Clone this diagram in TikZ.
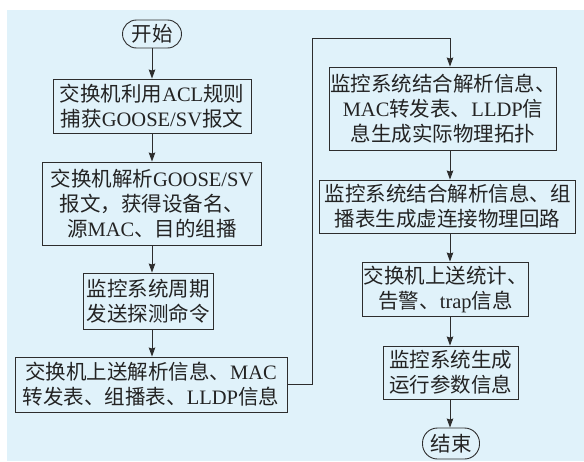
\documentclass[tikz,border=0pt]{standalone}
\usepackage{fontspec}
\setmainfont{Noto Sans CJK SC}
\newfontfamily\en{Liberation Serif}
\usetikzlibrary{arrows.meta,calc}
\definecolor{bgblue}{RGB}{224,242,250}
\definecolor{linec}{RGB}{45,45,45}
\definecolor{txtc}{RGB}{35,35,35}
\begin{document}
\begin{tikzpicture}[x=1pt,y=-1pt,
  box/.style={draw=linec,line width=0.9pt,align=center,inner sep=1pt,
    font=\fontsize{20.5}{25}\selectfont,text=txtc},
  term/.style={box,rounded corners=14pt},
  arr/.style={draw=linec,line width=0.9pt,-{Stealth[length=9pt,width=6.5pt,inset=1pt]}}]
\useasboundingbox (0,0) rectangle (584,461);
\fill[bgblue] (7,10) rectangle (584,461);
\coordinate (colL) at (152,0);
\coordinate (colR) at (450,0);
\coordinate (loopx) at (312,38);

\node[term,minimum width=59pt,minimum height=28pt] (start) at (152,34) {开始};
\node[box,minimum width=198pt,minimum height=54pt] (b1) at (152,106)
  {交换机利用{\en ACL}规则\\捕获{\en GOOSE/SV}报文};
\node[box,minimum width=219pt,minimum height=83pt] (b2) at (152,203.5)
  {交换机解析{\en GOOSE/SV}\\报文，获得设备名、\\源{\en MAC}、目的组播};
\node[box,minimum width=130pt,minimum height=56pt] (b3) at (148,301)
  {监控系统周期\\发送探测命令};
\node[box,minimum width=272pt,minimum height=55pt] (b4) at (151,384.5)
  {交换机上送解析信息、{\en MAC}\\转发表、组播表、{\en LLDP}信息};

\node[box,minimum width=226pt,minimum height=83pt] (b5) at (443,108.5)
  {监控系统结合解析信息、\\{\en MAC}转发表、{\en LLDP}信\\息生成实际物理拓扑};
\node[box,minimum width=256pt,minimum height=53pt] (b6) at (447.5,206.5)
  {监控系统结合解析信息、组\\播表生成虚连接物理回路};
\node[box,minimum width=165pt,minimum height=54pt] (b7) at (445.5,289)
  {交换机上送统计、\\告警、{\en trap}信息};
\node[box,minimum width=135pt,minimum height=53pt] (b8) at (450.5,372.5)
  {监控系统生成\\运行参数信息};
\node[term,minimum width=57pt,minimum height=31pt,rounded corners=15pt] (end) at (451,443.5) {结束};

\draw[arr] (start.south -| colL) -- (b1.north -| colL);
\draw[arr] (b1.south -| colL) -- (b2.north -| colL);
\draw[arr] (b2.south -| colL) -- (b3.north -| colL);
\draw[arr] (b3.south -| colL) -- (b4.north -| colL);
\draw[arr] (b4.east) -| (loopx) -| (b5.north -| colR);
\draw[arr] (b5.south -| colR) -- (b6.north -| colR);
\draw[arr] (b6.south -| colR) -- (b7.north -| colR);
\draw[arr] (b7.south -| colR) -- (b8.north -| colR);
\draw[arr] (b8.south -| colR) -- (end.north -| colR);
\end{tikzpicture}
\end{document}
